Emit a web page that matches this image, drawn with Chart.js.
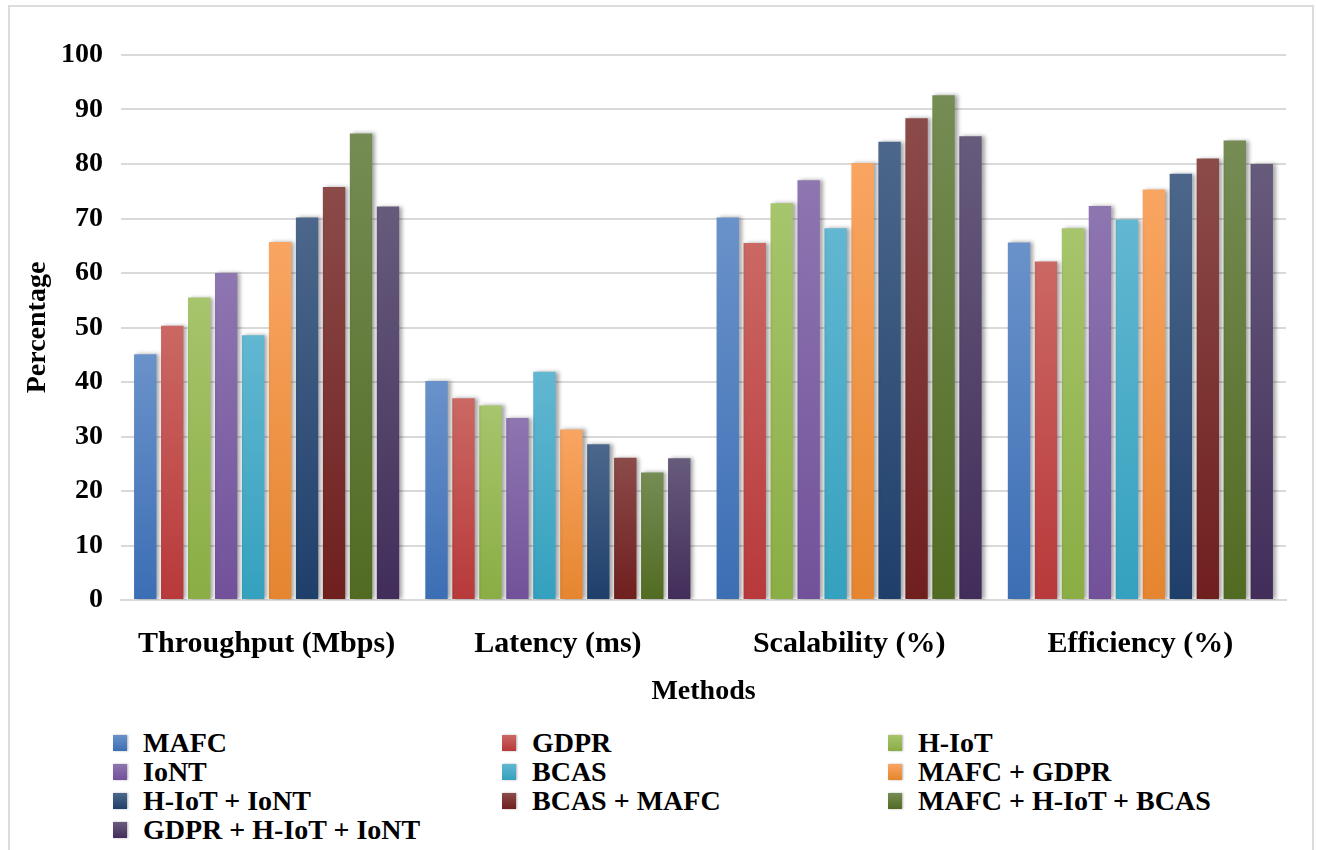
<!DOCTYPE html>
<html lang="en">
<head>
<meta charset="UTF-8">
<title>Methods comparison</title>
<script src="https://cdn.jsdelivr.net/npm/chart.js@4.4.0/dist/chart.umd.min.js"></script>
<style>
    body{margin:0; background:#fff; font-family:"Liberation Serif","Times New Roman",serif;}
    #frame{position:absolute; left:8px; top:5px; width:1302px; height:870px; border:2px solid #dcdcdc;}
    #wrap{position:absolute; left:0; top:0; width:1287px; height:709px;}
    #legend{position:absolute; left:113px; top:728px; display:grid; grid-template-columns:389px 386px 400px;}
    .item{display:flex; align-items:center; height:29px; font-weight:bold; font-size:28px; color:#000; white-space:nowrap;}
    .box{width:14px; height:16px; margin-right:16px; box-shadow:1px 0 2px rgba(0,0,0,0.3);}
</style>
</head>
<body>
<div id="frame"></div>
<div id="wrap"><canvas id="myChart" width="1287" height="709"></canvas></div>
<div id="legend"></div>

<script>
// categories on the x axis
const categories = ['Throughput (Mbps)', 'Latency (ms)', 'Scalability (%)', 'Efficiency (%)']

// series names (legend order)
const seriesNames = ['MAFC', 'GDPR', 'H-IoT', 'IoNT', 'BCAS', 'MAFC + GDPR',
    'H-IoT + IoNT', 'BCAS + MAFC', 'MAFC + H-IoT + BCAS', 'GDPR + H-IoT + IoNT']

// values per series, one per category
const mafc          = [45.1, 40.2, 70.2, 65.6]
const gdpr          = [50.3, 37.0, 65.5, 62.1]
const hIot          = [55.5, 35.7, 72.8, 68.2]
const iont          = [60.0, 33.4, 77.0, 72.3]
const bcas          = [48.6, 41.9, 68.2, 69.8]
const mafcGdpr      = [65.7, 31.3, 80.2, 75.3]
const hIotIont      = [70.2, 28.6, 84.1, 78.2]
const bcasMafc      = [75.8, 26.1, 88.4, 81.0]
const mafcHiotBcas  = [85.6, 23.4, 92.6, 84.3]
const gdprHiotIont  = [72.2, 26.0, 85.1, 80.0]

const seriesValues = [mafc, gdpr, hIot, iont, bcas, mafcGdpr, hIotIont, bcasMafc, mafcHiotBcas, gdprHiotIont]

// y axis range
const yMin = 0, yMax = 100, yStep = 10

// colours: lighter at the top of a bar, darker at the bottom
const topColors    = ['#6a92ca', '#cb6864', '#a7c56c', '#8e76b1', '#62b7d1', '#f9a562', '#4c678b', '#8b4b49', '#758c54', '#675b7c']
const bottomColors = ['#3c6eb4', '#b8393a', '#8aad44', '#72519a', '#34a1be', '#e5852f', '#1f3f6b', '#6f1f1e', '#526b22', '#422d5a']

const FONT = '"Liberation Serif", "Times New Roman", serif'

function barFill(i){
    return function(c){
        const chart = c.chart, area = chart.chartArea
        if(!area || c.type !== 'data' || !chart.scales.y) return bottomColors[i]
        const yTop = chart.scales.y.getPixelForValue(c.raw)
        const g = chart.ctx.createLinearGradient(0, yTop, 0, area.bottom)
        g.addColorStop(0, topColors[i])
        g.addColorStop(1, bottomColors[i])
        return g
    }
}

// soft grey shadow to the right of every bar
const barShadow = {
    id: 'barShadow',
    beforeDatasetsDraw(chart){
        const ctx = chart.ctx
        ctx.save()
        ctx.shadowColor = 'rgba(0,0,0,0.35)'
        ctx.shadowBlur = 4
        ctx.shadowOffsetX = 3
        ctx.shadowOffsetY = 0
    },
    afterDatasetsDraw(chart){
        chart.ctx.restore()
    }
}

const datasets = seriesNames.map(function(name, i){
    return {
        label: name,
        data: seriesValues[i],
        backgroundColor: barFill(i),
        borderWidth: 0,
        categoryPercentage: 0.926,
        barPercentage: 0.83
    }
})

const ctx = document.getElementById('myChart').getContext('2d')
const myChart = new Chart(ctx, {
    type: 'bar',
    data: { labels: categories, datasets: datasets },
    plugins: [barShadow],
    options: {
        responsive: false,
        animation: false,
        layout: { padding: { top: 55, right: 1, left: 0, bottom: 0 } },
        plugins: { legend: { display: false }, tooltip: { enabled: false } },
        scales: {
            x: {
                grid: { display: false, drawTicks: false },
                border: { display: true, color: '#d9d9d9', width: 2 },
                ticks: { color: '#000', padding: 26, font: { family: FONT, size: 30, weight: 'bold' } },
                title: { display: true, text: 'Methods', color: '#000', padding: 0,
                         font: { family: FONT, size: 28, weight: 'bold' } },
                afterFit: function(s){ s.height = 109 }
            },
            y: {
                min: yMin, max: yMax,
                ticks: { stepSize: yStep, color: '#000', padding: 18, font: { family: FONT, size: 28, weight: 'bold' } },
                grid: { color: '#d9d9d9', lineWidth: 2, drawTicks: false },
                border: { display: false },
                title: { display: true, text: 'Percentage', color: '#000', padding: { top: 21, bottom: 0 },
                         font: { family: FONT, size: 28, weight: 'bold' } },
                afterFit: function(s){ s.width = 121 }
            }
        }
    }
})//chart

// legend in three columns
const legend = document.getElementById('legend')
seriesNames.forEach(function(name, i){
    const item = document.createElement('div')
    item.className = 'item'
    const box = document.createElement('span')
    box.className = 'box'
    box.style.background = 'linear-gradient(' + topColors[i] + ',' + bottomColors[i] + ')'
    item.appendChild(box)
    item.appendChild(document.createTextNode(name))
    legend.appendChild(item)
})
</script>
</body>
</html>
